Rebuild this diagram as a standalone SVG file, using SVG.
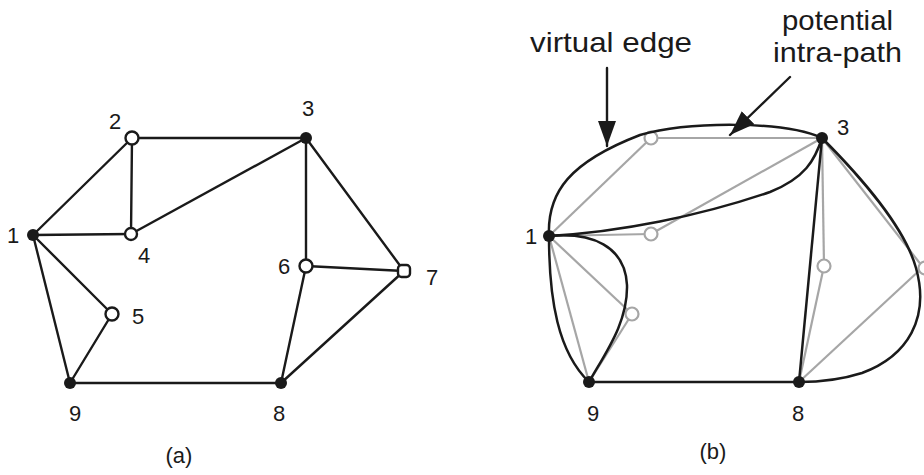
<svg xmlns="http://www.w3.org/2000/svg" width="924" height="475" viewBox="0 0 924 475">
<style>
.e{stroke:#1a1a1a;stroke-width:2.4;fill:none;stroke-linecap:round}
.g{stroke:#a6a6a6;stroke-width:2.2;fill:none}
.c{stroke:#1a1a1a;stroke-width:2.5;fill:none;stroke-linejoin:round}
.open{fill:#fff;stroke:#1a1a1a;stroke-width:2.4}
.gopen{fill:#fff;stroke:#a6a6a6;stroke-width:2.2}
.fill{fill:#1a1a1a}
text{font-family:"Liberation Sans",Arial,sans-serif;fill:#1a1a1a}
.n{font-size:22px;text-anchor:middle}
.t{font-size:28px}
</style>
<defs>
<marker id="ah" markerUnits="userSpaceOnUse" markerWidth="25" markerHeight="18" refX="25" refY="9" orient="auto">
<path d="M0,0 L25,9 L0,18 z" fill="#1a1a1a"/>
</marker>
</defs>
<rect width="924" height="475" fill="#fff"/>

<!-- Panel (a) connectors -->
<g id="connectors-a">
<line class="e" x1="33" y1="235" x2="132" y2="138"/>
<line class="e" x1="33" y1="235" x2="131" y2="234"/>
<line class="e" x1="132" y1="138" x2="131" y2="234"/>
<line class="e" x1="132" y1="138" x2="306" y2="138"/>
<line class="e" x1="131" y1="234" x2="306" y2="138"/>
<line class="e" x1="306" y1="138" x2="306" y2="266"/>
<line class="e" x1="306" y1="138" x2="404" y2="271"/>
<line class="e" x1="306" y1="266" x2="404" y2="271"/>
<line class="e" x1="306" y1="266" x2="281" y2="383"/>
<line class="e" x1="404" y1="271" x2="281" y2="383"/>
<line class="e" x1="33" y1="235" x2="112" y2="314"/>
<line class="e" x1="33" y1="235" x2="70" y2="383"/>
<line class="e" x1="112" y1="314" x2="70" y2="383"/>
<line class="e" x1="70" y1="383" x2="281" y2="383"/>
</g>

<!-- Panel (a) nodes -->
<g id="a-node1"><circle class="fill" cx="33" cy="235" r="6"/><text class="n" x="13" y="243">1</text></g>
<g id="a-node2"><circle class="open" cx="132" cy="138" r="6.5"/><text class="n" x="115" y="129">2</text></g>
<g id="a-node3"><circle class="fill" cx="306" cy="138" r="6"/><text class="n" x="308" y="116">3</text></g>
<g id="a-node4"><circle class="open" cx="131" cy="234" r="6"/><text class="n" x="144" y="263">4</text></g>
<g id="a-node5"><circle class="open" cx="112" cy="314" r="6.5"/><text class="n" x="138" y="324">5</text></g>
<g id="a-node6"><circle class="open" cx="306" cy="266" r="6.5"/><text class="n" x="284" y="274">6</text></g>
<g id="a-node7"><rect class="open" x="398" y="265" width="12" height="12" rx="3.5"/><text class="n" x="432" y="285">7</text></g>
<g id="a-node8"><circle class="fill" cx="281" cy="383" r="6"/><text class="n" x="279" y="421">8</text></g>
<g id="a-node9"><circle class="fill" cx="70" cy="383" r="6"/><text class="n" x="75" y="421">9</text></g>
<text class="n" x="179" y="463">(a)</text>

<!-- Panel (b) gray edges -->
<g id="connectors-b-gray">
<line class="g" x1="549" y1="236" x2="651" y2="138"/>
<line class="g" x1="651" y1="138" x2="822" y2="138"/>
<line class="g" x1="549" y1="236" x2="651" y2="234"/>
<line class="g" x1="651" y1="234" x2="822" y2="138"/>
<line class="g" x1="822" y1="138" x2="824" y2="266"/>
<line class="g" x1="822" y1="138" x2="922" y2="266"/>
<line class="g" x1="824" y1="266" x2="799" y2="382"/>
<line class="g" x1="922" y1="268" x2="799" y2="382"/>
<line class="g" x1="549" y1="236" x2="632" y2="314"/>
<line class="g" x1="632" y1="314" x2="589" y2="382"/>
<line class="g" x1="549" y1="236" x2="589" y2="382"/>
</g>

<!-- Panel (b) gray nodes -->
<g id="b-node2"><circle class="gopen" cx="651" cy="138" r="6.5"/></g>
<g id="b-node4"><circle class="gopen" cx="651" cy="234" r="6.5"/></g>
<g id="b-node5"><circle class="gopen" cx="632" cy="314" r="6.5"/></g>
<g id="b-node6"><circle class="gopen" cx="824" cy="266" r="6.5"/></g>
<g id="b-node7"><circle class="gopen" cx="925" cy="268" r="6.5"/></g>

<!-- Panel (b) black curves / edges -->
<g id="connectors-b-black">
<path class="c" d="M549,236 C547,192 570,162 640,135 C690,121 785,121 822,138"/>
<path class="c" d="M549,236 C620,232 700,216 770,192 C805,178 815,160 822,138"/>
<path class="c" d="M549,236 C549,300 558,352 589,382"/>
<path class="c" d="M549,236 C592,232 625,246 627,285 C628,322 606,352 589,382"/>
<line class="c" x1="822" y1="138" x2="799" y2="382"/>
<line class="c" x1="589" y1="382" x2="799" y2="382"/>
<path class="c" d="M822,138 C860,176 905,228 916,268 C930,318 908,356 862,373 C840,380 815,382 799,382"/>
<line class="e" x1="607" y1="68" x2="607" y2="146" marker-end="url(#ah)"/>
<line class="e" x1="790" y1="77" x2="730" y2="135" marker-end="url(#ah)"/>
</g>

<!-- Panel (b) black nodes -->
<g id="b-node1"><circle class="fill" cx="549" cy="236" r="6"/><text class="n" x="531" y="244">1</text></g>
<g id="b-node3"><circle class="fill" cx="822" cy="138" r="6"/><text class="n" x="843" y="135">3</text></g>
<g id="b-node8"><circle class="fill" cx="799" cy="382" r="6"/><text class="n" x="798" y="421">8</text></g>
<g id="b-node9"><circle class="fill" cx="589" cy="382" r="6"/><text class="n" x="593" y="421">9</text></g>
<text class="n" x="713" y="459">(b)</text>

<text class="t" x="530" y="52" textLength="162" lengthAdjust="spacingAndGlyphs">virtual edge</text>
<text class="t" x="782" y="30" textLength="111" lengthAdjust="spacingAndGlyphs">potential</text>
<text class="t" x="773" y="62" textLength="129" lengthAdjust="spacingAndGlyphs">intra-path</text>
</svg>
